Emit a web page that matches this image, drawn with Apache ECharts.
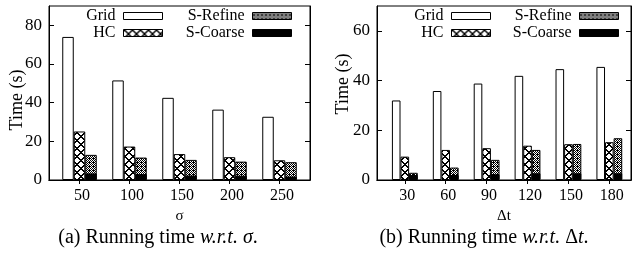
<!DOCTYPE html>
<html>
<head>
<meta charset="utf-8">
<script src="https://cdn.jsdelivr.net/npm/echarts@6/dist/echarts.min.js"></script>
<style>
html, body { margin: 0; padding: 0; background: #fff; }
#chart { width: 633px; height: 253px; }
</style>
</head>
<body>
<div id="chart"></div>
<script>
// (a) running time w.r.t. sigma
var sigmaLabels = ['50', '100', '150', '200', '250'];
var sigmaGrid = [74.0, 51.5, 42.5, 36.4, 32.7];
var sigmaHC = [25.1, 17.3, 13.4, 11.8, 10.2];
var sigmaRefine = [13.0, 11.6, 10.4, 9.5, 9.2];
var sigmaCoarse = [3.4, 3.0, 2.3, 2.2, 1.8];
var sigmaTicks = [0, 20, 40, 60, 80];

// (b) running time w.r.t. delta t
var dtLabels = ['30', '60', '90', '120', '150', '180'];
var dtGrid = [32.0, 35.8, 38.8, 41.9, 44.6, 45.5];
var dtHC = [9.4, 12.1, 12.8, 13.8, 14.4, 15.2];
var dtRefine = [2.9, 5.0, 8.1, 12.1, 14.5, 16.8];
var dtCoarse = [2.0, 2.0, 2.3, 2.7, 2.7, 2.7];
var dtTicks = [0, 20, 40, 60];

var FONT = 'Liberation Serif';

var makePattern = function(size, test) {
  var c = document.createElement('canvas');
  c.width = c.height = size;
  var ctx = c.getContext('2d');
  ctx.fillStyle = '#fff';
  ctx.fillRect(0, 0, size, size);
  ctx.fillStyle = '#000';
  for (var x = 0; x < size; x++) {
    for (var y = 0; y < size; y++) {
      if (test(x, y)) ctx.fillRect(x, y, 1, 1);
    }
  }
  return { image: c, repeat: 'repeat' };
};

// crosshatch with white diamonds
var hcFill = makePattern(8, function(x, y) {
  return (x + y) % 8 <= 1 || (x - y + 8) % 8 <= 1;
});
// fine dark hatch
var refineFill = makePattern(4, function(x, y) {
  return (x + y) % 2 === 0 || (x === 1 && y === 2);
});

var positions = function(labels) {
  return labels.map(function(l, i) { return i + 1; });
};
var pairs = function(values) {
  return values.map(function(v, i) { return [i + 1, v]; });
};

var xAxes = function(gi, labels, min, max, name) {
  var pos = positions(labels);
  return [{
    type: 'value', gridIndex: gi, min: min, max: max, position: 'bottom',
    name: name, nameLocation: 'middle', nameGap: 19,
    nameTextStyle: { fontFamily: FONT, fontSize: 15, color: '#000' },
    axisLine: { show: true, lineStyle: { color: '#000', width: 1 } },
    axisTick: { show: true, inside: true, length: 4, customValues: pos, lineStyle: { color: '#000' } },
    axisLabel: {
      customValues: pos, margin: 8, color: '#000', fontFamily: FONT, fontSize: 16,
      padding: [0, 0, 0, 5],
      formatter: function(v) { return labels[Math.round(v) - 1]; }
    },
    splitLine: { show: false }
  }, {
    type: 'value', gridIndex: gi, min: min, max: max, position: 'top',
    axisLine: { show: true, lineStyle: { color: '#000', width: 1 } },
    axisTick: { show: true, inside: true, length: 4, customValues: pos, lineStyle: { color: '#000' } },
    axisLabel: { show: false },
    splitLine: { show: false }
  }];
};

var yAxes = function(gi, max, ticks) {
  return [{
    type: 'value', gridIndex: gi, min: 0, max: max, position: 'left',
    axisLine: { show: true, lineStyle: { color: '#000', width: 1 } },
    axisTick: { show: true, inside: true, length: 5, customValues: ticks, lineStyle: { color: '#000' } },
    axisLabel: { customValues: ticks, margin: 7, color: '#000', fontFamily: FONT, fontSize: 17 },
    splitLine: { show: false }
  }, {
    type: 'value', gridIndex: gi, min: 0, max: max, position: 'right',
    axisLine: { show: true, lineStyle: { color: '#000', width: 1 } },
    axisTick: { show: true, inside: true, length: 5, customValues: ticks, lineStyle: { color: '#000' } },
    axisLabel: { show: false },
    splitLine: { show: false }
  }];
};

var bars = function(gi, grid, hc, refine, coarse, bw) {
  var border = { borderColor: '#000', borderWidth: 1 };
  var base = { type: 'bar', barWidth: bw, barGap: 0, yAxisIndex: gi * 2, animation: false };
  var main = gi * 2, top = gi * 2 + 1;
  return [
    Object.assign({}, base, { name: 'Grid', xAxisIndex: main, data: pairs(grid),
      itemStyle: Object.assign({ color: '#fff' }, border) }),
    Object.assign({}, base, { name: 'HC', xAxisIndex: main, data: pairs(hc),
      itemStyle: Object.assign({ color: hcFill }, border) }),
    Object.assign({}, base, { name: 'S-Refine', xAxisIndex: main, data: pairs(refine),
      itemStyle: Object.assign({ color: refineFill }, border) }),
    // empty slots so S-Coarse lands on top of S-Refine
    Object.assign({}, base, { name: '_slot1', xAxisIndex: top, data: [] }),
    Object.assign({}, base, { name: '_slot2', xAxisIndex: top, data: [] }),
    Object.assign({}, base, { name: 'S-Coarse', xAxisIndex: top, data: pairs(coarse),
      itemStyle: Object.assign({ color: '#000' }, border) })
  ];
};

var legendBase = {
  orient: 'vertical', align: 'right', icon: 'rect', itemWidth: 39, itemHeight: 7,
  itemGap: 1, padding: 0, top: 8, selectedMode: false,
  itemStyle: { borderColor: '#000', borderWidth: 1 },
  textStyle: { fontFamily: FONT, fontSize: 16, color: '#000', lineHeight: 16, padding: [0, 3, 0, 0] }
};

var captionStyle = function(text) {
  return {
    text: text, align: 'center', verticalAlign: 'middle',
    fontFamily: FONT, fontSize: 20, fill: '#000',
    rich: { i: { fontFamily: FONT, fontSize: 20, fontStyle: 'italic', fill: '#000' } }
  };
};

var chart = echarts.init(document.getElementById('chart'));

chart.setOption({
  animation: false,
  backgroundColor: '#fff',
  grid: [
    { left: 49, right: 323, top: 6, bottom: 73, show: true, borderColor: '#000', borderWidth: 1 },
    { left: 377, right: 2, top: 6, bottom: 73, show: true, borderColor: '#000', borderWidth: 1 }
  ],
  xAxis: xAxes(0, sigmaLabels, 0.39, 5.61, 'σ').concat(xAxes(1, dtLabels, 0.32, 6.53, 'Δt')),
  yAxis: yAxes(0, 90, sigmaTicks).concat(yAxes(1, 70, dtTicks)),
  legend: [
    Object.assign({}, legendBase, { data: ['Grid', 'HC'], right: 470 }),
    Object.assign({}, legendBase, { data: ['S-Refine', 'S-Coarse'], right: 341 }),
    Object.assign({}, legendBase, { data: ['Grid', 'HC'], right: 142 }),
    Object.assign({}, legendBase, { data: ['S-Refine', 'S-Coarse'], right: 14 })
  ],
  series: bars(0, sigmaGrid, sigmaHC, sigmaRefine, sigmaCoarse, 11.5)
    .concat(bars(1, dtGrid, dtHC, dtRefine, dtCoarse, 8.6)),
  graphic: [
    { type: 'text', x: 17, y: 100, rotation: Math.PI / 2,
      style: { text: 'Time (s)', align: 'center', verticalAlign: 'middle', fontFamily: FONT, fontSize: 18, fill: '#000' } },
    { type: 'text', x: 343, y: 84, rotation: Math.PI / 2,
      style: { text: 'Time (s)', align: 'center', verticalAlign: 'middle', fontFamily: FONT, fontSize: 18, fill: '#000' } },
    { type: 'text', x: 158, y: 238, style: captionStyle('(a) Running time {i|w.r.t.} {i|σ}.') },
    { type: 'text', x: 484, y: 238, style: captionStyle('(b) Running time {i|w.r.t.} Δ{i|t}.') }
  ]
});
</script>
</body>
</html>
